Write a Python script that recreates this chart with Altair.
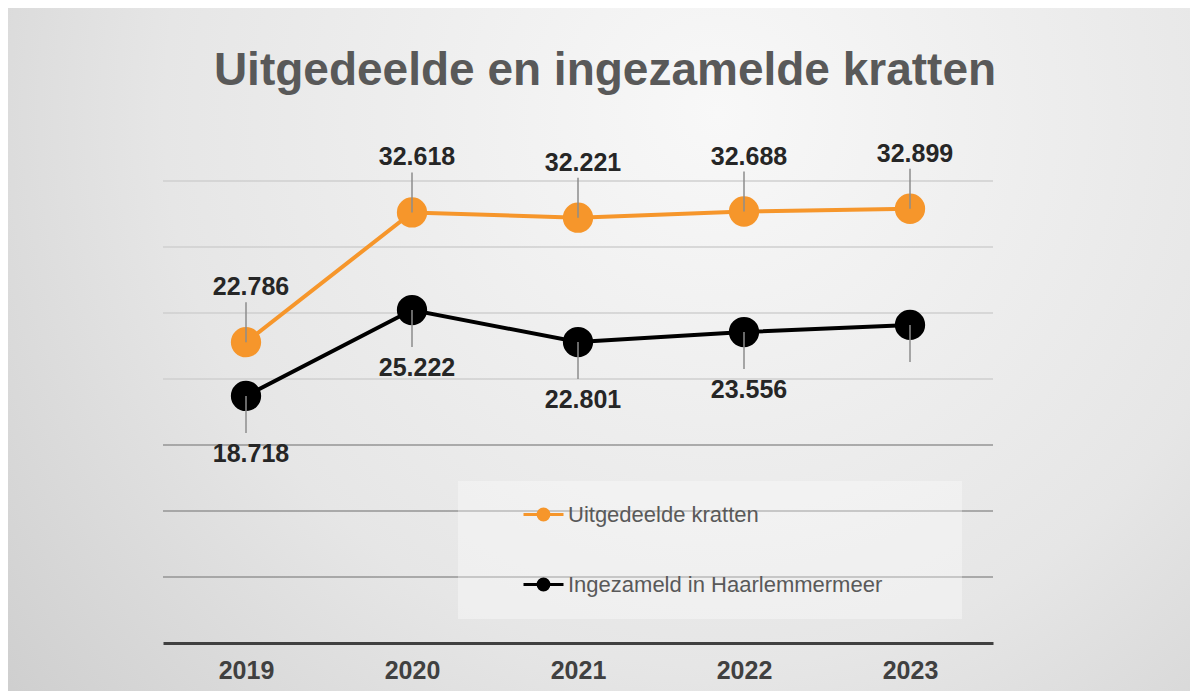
import altair as alt
import pandas as pd

# ---------------- data ----------------
title_text = "Uitgedeelde en ingezamelde kratten"
years = ["2019", "2020", "2021", "2022", "2023"]
series_names = ["Uitgedeelde kratten", "Ingezameld in Haarlemmermeer"]
uitgedeeld = [22786, 32618, 32221, 32688, 32899]
ingezameld = [18718, 25222, 22801, 23556, 24100]   # 2023 value has no label in the source; estimated
uitgedeeld_label = [True, True, True, True, True]
ingezameld_label = [True, True, True, True, False]
grid_values = [5000, 10000, 15000, 20000, 25000, 30000, 35000]
y_max = 35000

# ---------------- styles ----------------
series_colors = ["#f6962b", "#000000"]
FONT = "Liberation Sans"
W, H = 830, 462
PAD = {"left": 155, "top": 173, "right": 197, "bottom": 48}

rows = []
for s, vals, shown in [(series_names[0], uitgedeeld, uitgedeeld_label),
                       (series_names[1], ingezameld, ingezameld_label)]:
    for yr, v, sh in zip(years, vals, shown):
        rows.append({"year": yr, "series": s, "value": v, "shown": sh})
df = pd.DataFrame(rows)
grid_df = pd.DataFrame({"v": grid_values})

x_enc = alt.X(
    "year:N", sort=years, scale=alt.Scale(type="point", padding=0.5),
    axis=alt.Axis(title=None, labelAngle=0, labelFont=FONT, labelFontWeight="bold",
                  labelFontSize=25, labelColor="#404040", labelPadding=15, ticks=False,
                  grid=False, domainColor="#404040", domainWidth=3, zindex=1),
)
y_scale = alt.Scale(domain=[0, y_max], nice=False, zero=True)
y_enc = alt.Y("value:Q", scale=y_scale, axis=None)

color_scale = alt.Scale(domain=series_names, range=series_colors)
legend = alt.Legend(
    title=None, orient="none", legendX=295, legendY=300, direction="vertical",
    symbolType="M-1,0H1M-0.27,0A0.27,0.27 0 1,0 0.27,0A0.27,0.27 0 1,0 -0.27,0Z",
    symbolSize=1600, symbolStrokeWidth=3, symbolOffset=52,
    labelFont=FONT, labelFontSize=22, labelColor="#595959", labelOffset=3,
    rowPadding=37, padding=12, labelLimit=700,
)

bg = alt.Chart(alt.Data(values=[{}])).mark_rect(
    color={"gradient": "radial",
           "x1": 0.6, "y1": 0.3, "r1": 0.0, "x2": 0.6, "y2": 0.3, "r2": 0.85,
           "stops": [{"offset": 0, "color": "#f8f8f8"},
                     {"offset": 0.55, "color": "#e6e6e6"},
                     {"offset": 1, "color": "#c9c9c9"}]}
).encode(x=alt.value(-155), x2=alt.value(1027), y=alt.value(-173), y2=alt.value(510))

grid_light = alt.Chart(grid_df).transform_filter("datum.v >= 20000").mark_rule(
    color="#cfcfcf", strokeWidth=1.5
).encode(y=alt.Y("v:Q", scale=y_scale, axis=None))
grid_dark = alt.Chart(grid_df).transform_filter("datum.v < 20000").mark_rule(
    color="#959595", strokeWidth=1.5
).encode(y=alt.Y("v:Q", scale=y_scale, axis=None))

# legend background box (decoration)
legend_box = alt.Chart(alt.Data(values=[{}])).mark_rect(
    color="#ffffff", opacity=0.35
).encode(x=alt.value(295), x2=alt.value(799), y=alt.value(300), y2=alt.value(438))

lines = alt.Chart(df).mark_line(strokeWidth=4).encode(
    x=x_enc, y=y_enc,
    stroke=alt.Stroke("series:N", scale=color_scale, legend=legend),
)
points = alt.Chart(df).mark_point(filled=True, size=800, opacity=1).encode(
    x=x_enc, y=y_enc,
    fill=alt.Fill("series:N", scale=color_scale, legend=legend),
    stroke=alt.Stroke("series:N", scale=color_scale, legend=legend),
)

f_top = f"datum.series == '{series_names[0]}'"
f_bot = f"datum.series == '{series_names[1]}'"

lead_top = alt.Chart(df).transform_filter(f_top).mark_rule(
    color="#8c8c8c", strokeWidth=1.5, y2Offset=-40
).encode(x=x_enc, y=y_enc, y2="value:Q")
lead_bot = alt.Chart(df).transform_filter(f_bot).mark_rule(
    color="#8c8c8c", strokeWidth=1.5, y2Offset=37
).encode(x=x_enc, y=y_enc, y2="value:Q")

label_calc = "replace(format(datum.value, ',d'), ',', '.')"
lab_top = alt.Chart(df).transform_filter(f_top).transform_filter("datum.shown").transform_calculate(
    label=label_calc
).mark_text(font=FONT, fontWeight="bold", fontSize=25, color="#262626",
            baseline="alphabetic", dy=-47, dx=5).encode(x=x_enc, y=y_enc, text="label:N")
lab_bot = alt.Chart(df).transform_filter(f_bot).transform_filter("datum.shown").transform_calculate(
    label=label_calc
).mark_text(font=FONT, fontWeight="bold", fontSize=25, color="#262626",
            baseline="alphabetic", dy=66, dx=5).encode(x=x_enc, y=y_enc, text="label:N")

title = alt.Chart(alt.Data(values=[{"t": title_text}])).mark_text(
    font=FONT, fontWeight="bold", fontSize=46, color="#595959",
    align="center", baseline="alphabetic"
).encode(x=alt.value(442), y=alt.value(-96), text="t:N")

chart = alt.layer(
    bg, grid_light, grid_dark, legend_box, lines, points, lead_top, lead_bot,
    lab_top, lab_bot, title
).properties(
    width=W, height=H, padding=PAD,
    autosize=alt.AutoSizeParams(type="none"),
    background="white",
).configure_view(stroke=None)

chart.save("out.html", embed_options={"renderer": "svg", "actions": False})
